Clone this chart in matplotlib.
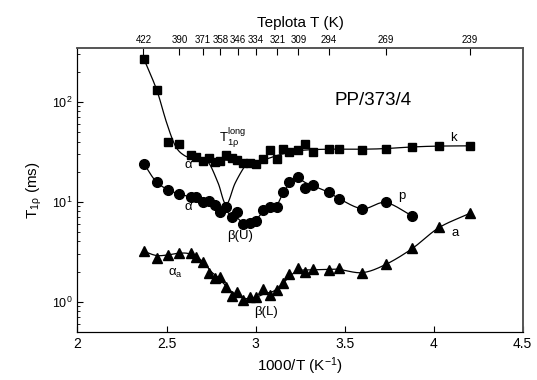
import numpy as np
import matplotlib
matplotlib.use("Agg")
import matplotlib.pyplot as plt
from matplotlib.ticker import NullFormatter, LogLocator

plt.rcParams['font.family'] = ['Liberation Sans', 'DejaVu Sans']
plt.rcParams['mathtext.fontset'] = 'custom'
plt.rcParams['mathtext.rm'] = 'Liberation Sans'
plt.rcParams['mathtext.it'] = 'Liberation Sans'

# ---- data (1000/T in K^-1, T1rho in ms) ----
inv_T = [2.374, 2.445, 2.511, 2.571, 2.636, 2.664, 2.704, 2.741, 2.773, 2.801,
         2.833, 2.867, 2.898, 2.932, 2.966, 3.002, 3.039, 3.082, 3.123, 3.153,
         3.190, 3.241, 3.279, 3.320, 3.410, 3.470, 3.599, 3.730, 3.879, 4.032, 4.202]
k_vals = [265, 131, 40, 37.8, 29.3, 28.2, 25.7, 27.2, 25.1, 25.7,
          29.3, 27.2, 26.1, 24.5, 24.5, 23.8, 26.5, 32.9, 26.5, 33.4,
          31.2, 32.9, 37.5, 31.2, 33.7, 33.7, 32.9, 33.4, 35.5, 36.3, 36.1]
p_vals = [23.8, 15.8, 13.1, 11.9, 11.2, 11.2, 10.0, 10.2, 9.27, 7.94,
          8.91, 6.97, 7.82, 5.98, 6.07, 6.46, 8.26, 8.78, 8.91, 12.6,
          15.8, 17.5, 13.8, 14.7, 12.4, 10.6, 8.4, 10.0, 7.2]
a_vals = [3.24, 2.72, 2.93, 3.09, 3.05, 2.82, 2.51, 1.92, 1.71, 1.75,
          1.39, 1.14, 1.26, 1.04, 1.11, 1.12, 1.33, 1.17, 1.31, 1.55,
          1.88, 2.19, 2.00, 2.11, 2.07, 2.19, 1.95, 2.38, 3.42, 5.54, 7.65]

# fitted curves
k_fit_x = [2.374, 2.445, 2.50, 2.55, 2.60, 2.65, 2.75, 2.85, 2.95, 3.00, 3.05,
           3.15, 3.25, 3.40, 3.60, 3.73, 3.88, 4.03, 4.20]
k_fit_y = [265, 131, 62, 36, 29, 27.5, 26.5, 26, 25, 24.8, 26.3,
           30, 32.5, 33.5, 33.5, 34, 35.3, 36, 36.2]
v_fit_x = [2.70, 2.74, 2.79, 2.835, 2.885, 2.942, 2.97]
v_fit_y = [26.5, 24, 15.3, 9.4, 15.3, 23, 24.8]
p_fit_x = [2.374, 2.44, 2.51, 2.57, 2.63, 2.70, 2.77, 2.80, 2.835, 2.867, 2.90,
           2.93, 2.97, 3.00, 3.04, 3.09, 3.12, 3.155, 3.195, 3.24, 3.28, 3.32,
           3.41, 3.47, 3.60, 3.73, 3.88]
p_fit_y = [23.8, 16, 13.1, 12, 11.2, 10.1, 9.0, 8.3, 8.0, 7.2, 6.8,
           6.1, 6.1, 6.5, 7.8, 8.6, 9.2, 12.3, 15.3, 16.8, 15.5, 14.5,
           12.4, 10.7, 8.5, 9.8, 7.2]
a_fit_x = [2.37, 2.44, 2.50, 2.57, 2.63, 2.70, 2.75, 2.80, 2.85, 2.90, 2.95, 3.00,
           3.05, 3.10, 3.15, 3.20, 3.25, 3.32, 3.41, 3.47, 3.60, 3.73, 3.88, 4.03, 4.20]
a_fit_y = [3.2, 2.9, 2.92, 3.05, 3.0, 2.55, 2.0, 1.68, 1.32, 1.15, 1.07, 1.1,
           1.2, 1.27, 1.5, 1.85, 2.05, 2.08, 2.1, 2.1, 1.95, 2.35, 3.4, 5.5, 7.6]

top_ticks_pos = [2.37, 2.572, 2.704, 2.803, 2.900, 3.001, 3.123, 3.241, 3.412, 3.732, 4.202]
top_ticks_lab = ['422', '390', '371', '358', '346', '334', '321', '309', '294', '269', '239']


def smooth(xs, ys, n=20):
    x = np.asarray(xs, float)
    y = np.log10(np.asarray(ys, float))
    P = np.column_stack([x, y])
    P = np.vstack([2 * P[0] - P[1], P, 2 * P[-1] - P[-2]])
    out = []
    t = np.linspace(0, 1, n, endpoint=False)[:, None]
    for i in range(1, len(P) - 2):
        p0, p1, p2, p3 = P[i - 1], P[i], P[i + 1], P[i + 2]
        seg = 0.5 * ((2 * p1) + (-p0 + p2) * t + (2 * p0 - 5 * p1 + 4 * p2 - p3) * t ** 2
                     + (-p0 + 3 * p1 - 3 * p2 + p3) * t ** 3)
        out.append(seg)
    out.append(P[-2][None, :])
    out = np.vstack(out)
    return out[:, 0], 10 ** out[:, 1]


fig = plt.figure(figsize=(5.37, 3.80), dpi=100)
ax = fig.add_axes([0.1443, 0.1271, 0.8291, 0.7466])

for fx, fy in [(k_fit_x, k_fit_y), (v_fit_x, v_fit_y), (p_fit_x, p_fit_y), (a_fit_x, a_fit_y)]:
    sx, sy = smooth(fx, fy)
    ax.plot(sx, sy, color='black', lw=0.9)

ax.plot(inv_T, k_vals, 's', color='black', ms=6.0, ls='none')
ax.plot(inv_T[:len(p_vals)], p_vals, 'o', color='black', ms=7.0, ls='none')
ax.plot(inv_T, a_vals, '^', color='black', ms=7.0, ls='none')

ax.set_yscale('log')
ax.set_xlim(2, 4.5)
ax.set_ylim(0.5, 345)
ax.set_xticks([2, 2.5, 3, 3.5, 4, 4.5])
ax.set_xticklabels(['2', '2.5', '3', '3.5', '4', '4.5'])
ax.set_yticks([1, 10, 100])
ax.set_yticklabels([r'$10^0$', r'$10^1$', r'$10^2$'])
ax.yaxis.set_minor_locator(LogLocator(base=10, subs=np.arange(2, 10)))
ax.yaxis.set_minor_formatter(NullFormatter())
ax.tick_params(axis='x', which='both', direction='in', length=4, labelsize=10, top=False, pad=4)
ax.tick_params(axis='y', which='major', direction='in', length=4, labelsize=9, right=False)
ax.tick_params(axis='y', which='minor', direction='in', length=2.5, right=False)

ax.set_xlabel(r'1000/T (K$^{-1}$)', fontsize=11, labelpad=3)
ax.set_ylabel('T$_{\\mathrm{1ρ}}$ (ms)', fontsize=11, labelpad=6)

top = ax.twiny()
top.set_xlim(ax.get_xlim())
top.set_xticks(top_ticks_pos)
top.set_xticklabels(top_ticks_lab)
top.tick_params(axis='x', direction='in', length=5, labelsize=7, pad=2)
top.set_xlabel('Teplota T (K)', fontsize=11, labelpad=6)

for s in ['top', 'right']:
    ax.spines[s].set_color('#555555')
    top.spines[s].set_color('#555555')
    ax.spines[s].set_linewidth(1.2)
    top.spines[s].set_linewidth(1.2)

fs = 9.5
ax.text(3.661, 104, 'PP/373/4', fontsize=13.5, ha='center', va='center')
ax.text(4.112, 43.7, 'k', fontsize=fs, ha='center', va='center')
ax.text(3.822, 11.5, 'p', fontsize=fs, ha='center', va='center')
ax.text(4.122, 4.83, 'a', fontsize=fs, ha='center', va='center')
ax.text(2.623, 23.3, 'α', fontsize=fs, ha='center', va='center')
ax.text(2.623, 8.9, 'α', fontsize=fs, ha='center', va='center')
ax.text(2.868, 43.4, 'T$^{\\mathrm{long}}_{\\mathrm{1ρ}}$', fontsize=fs, ha='center', va='center')
ax.text(2.913, 4.54, 'β(U)', fontsize=fs, ha='center', va='center')
ax.text(2.548, 1.92, 'α$_{\\mathrm{a}}$', fontsize=fs, ha='center', va='center')
ax.text(3.06, 0.794, 'β(L)', fontsize=fs, ha='center', va='center')

fig.savefig('out.png', dpi=100)
